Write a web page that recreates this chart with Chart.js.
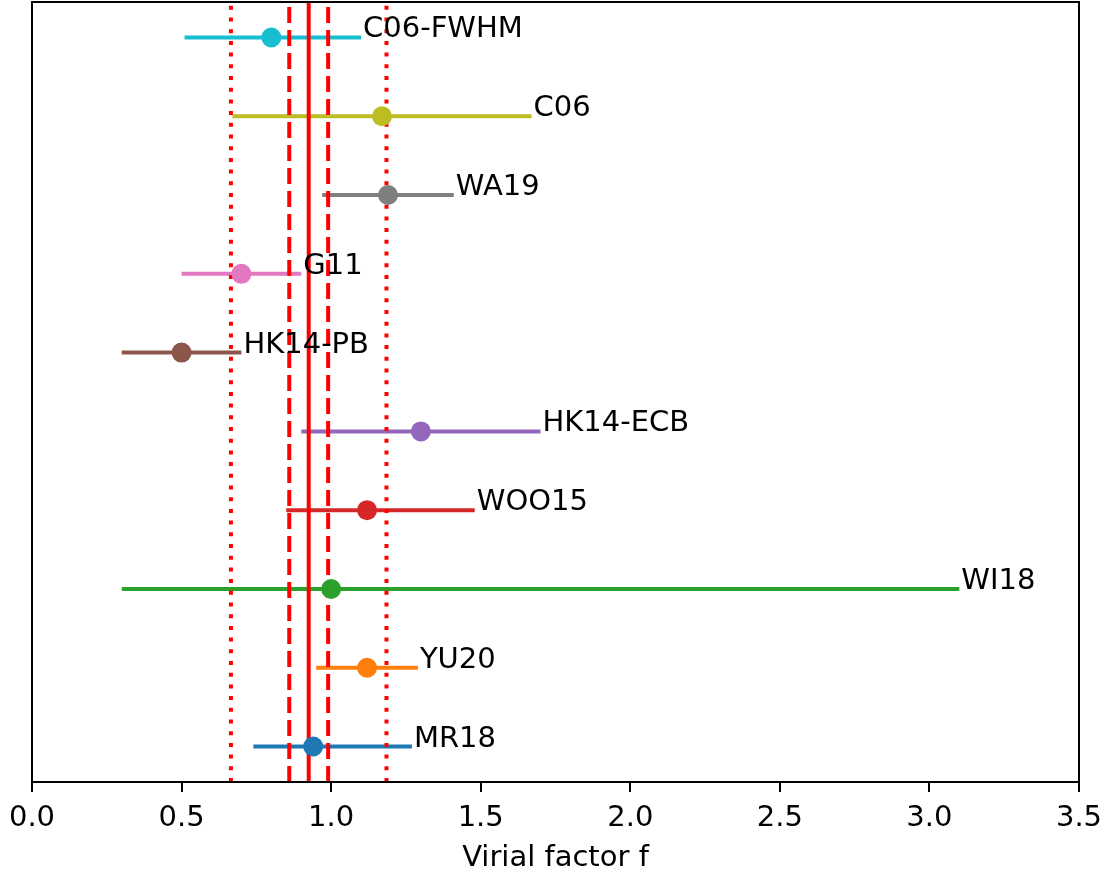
<!DOCTYPE html>
<html>
<head>
<meta charset="utf-8">
<script src="https://cdn.jsdelivr.net/npm/chart.js@4.4.1/dist/chart.umd.min.js"></script>
<style>
  body { margin: 0; background: #fff; }
  #wrap { width: 1119px; height: 875px; }
</style>
</head>
<body>
<div id="wrap"><canvas id="grafico" width="1119" height="875"></canvas></div>
<script>
// one row per sample, bottom to top
const names = ['MR18', 'YU20', 'WI18', 'WOO15', 'HK14-ECB', 'HK14-PB', 'G11', 'WA19', 'C06', 'C06-FWHM']
const fValues = [0.94, 1.12, 1.0, 1.12, 1.3, 0.5, 0.7, 1.19, 1.17, 0.8]
const fLow = [0.74, 0.95, 0.3, 0.85, 0.9, 0.3, 0.5, 0.97, 0.67, 0.51]
const fHigh = [1.27, 1.29, 3.1, 1.48, 1.7, 0.7, 0.9, 1.41, 1.67, 1.1]
const colors = ['#1f77b4', '#ff7f0e', '#2ca02c', '#d62728', '#9467bd', '#8c564b', '#e377c2', '#7f7f7f', '#bcbd22', '#17becf']

const meanF = [0.925]
const dashedF = [0.86, 0.99]
const dottedF = [0.665, 1.185]
const xTicks = [0, 0.5, 1.0, 1.5, 2.0, 2.5, 3.0, 3.5]
const xTitle = 'Virial factor f'

const yMin = -0.45
const yMax = 9.45
const fontFace = "'DejaVu Sans', sans-serif"
const fontCss = '29px ' + fontFace

const datasets = []

// markers on top
datasets.push({
  type: 'scatter',
  data: fValues.map((v, i) => ({ x: v, y: i })),
  pointBackgroundColor: colors,
  pointBorderWidth: 0,
  pointRadius: 10,
  order: 0
})

const vline = (v, dash) => ({
  type: 'line',
  data: [{ x: v, y: yMin }, { x: v, y: yMax }],
  borderColor: '#ff0000',
  borderWidth: 4,
  borderDash: dash,
  borderCapStyle: 'butt',
  pointRadius: 0,
  order: 1
})
meanF.forEach(v => datasets.push(vline(v, [])))
dashedF.forEach(v => datasets.push(vline(v, [16, 7])))
dottedF.forEach(v => datasets.push(vline(v, [4, 7.7])))

names.forEach((n, i) => {
  datasets.push({
    type: 'line',
    data: [{ x: fLow[i], y: i }, { x: fHigh[i], y: i }],
    borderColor: colors[i],
    borderWidth: 4,
    borderCapStyle: 'butt',
    pointRadius: 0,
    order: 2
  })
})

const rowLabels = {
  id: 'rowLabels',
  afterDatasetsDraw(chart) {
    const ctx = chart.ctx
    const xs = chart.scales.x
    const ys = chart.scales.y
    ctx.save()
    ctx.font = fontCss
    ctx.fillStyle = '#000'
    ctx.textAlign = 'left'
    ctx.textBaseline = 'alphabetic'
    names.forEach((n, i) => {
      ctx.fillText(n, xs.getPixelForValue(fHigh[i]) + 2, ys.getPixelForValue(i))
    })
    ctx.restore()
  }
}

// frame, x ticks, tick labels and x title
const frame = {
  id: 'frame',
  afterDraw(chart) {
    const a = chart.chartArea
    const xs = chart.scales.x
    const ctx = chart.ctx
    ctx.save()
    ctx.strokeStyle = '#000'
    ctx.lineWidth = 2
    ctx.strokeRect(a.left, a.top, a.right - a.left, a.bottom - a.top)
    ctx.beginPath()
    xTicks.forEach(v => {
      const px = Math.round(xs.getPixelForValue(v))
      ctx.moveTo(px, a.bottom)
      ctx.lineTo(px, a.bottom + 10)
    })
    ctx.stroke()
    ctx.font = fontCss
    ctx.fillStyle = '#000'
    ctx.textAlign = 'center'
    ctx.textBaseline = 'alphabetic'
    xTicks.forEach(v => ctx.fillText(v.toFixed(1), xs.getPixelForValue(v), a.bottom + 44))
    ctx.fillText(xTitle, (a.left + a.right) / 2, a.bottom + 84)
    ctx.restore()
  }
}

new Chart(document.getElementById('grafico'), {
  type: 'scatter',
  data: { datasets: datasets },
  options: {
    responsive: false,
    animation: false,
    events: [],
    layout: { autoPadding: false, padding: { left: 32, right: 40, top: 2, bottom: 0 } },
    plugins: { legend: { display: false }, tooltip: { enabled: false } },
    scales: {
      x: {
        type: 'linear',
        min: 0,
        max: 3.5,
        afterBuildTicks: scale => { scale.ticks = xTicks.map(v => ({ value: v })) },
        afterFit: scale => { scale.height = 93 },
        ticks: { display: false },
        grid: { display: false },
        border: { display: false }
      },
      y: { type: 'linear', min: yMin, max: yMax, display: false }
    }
  },
  plugins: [rowLabels, frame]
})
</script>
</body>
</html>
